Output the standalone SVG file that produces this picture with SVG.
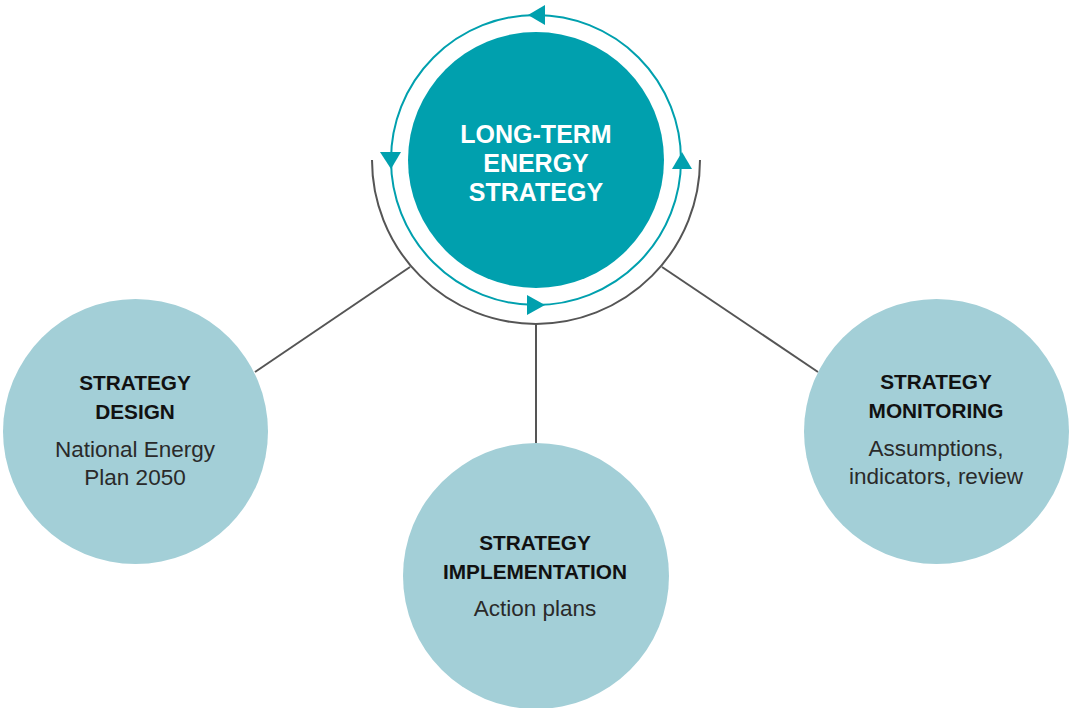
<svg xmlns="http://www.w3.org/2000/svg" width="1070" height="708" viewBox="0 0 1070 708">
<style>
.sat{fill:#A3CFD7;}
.hub{fill:#00A0AE;}
.conn{stroke:#555555;stroke-width:2;fill:none;}
.ring{stroke:#00A0AE;stroke-width:2;fill:none;}
.arr{fill:#00A0AE;}
.t{font-family:"Liberation Sans",Arial,sans-serif;text-anchor:middle;}
.h{font-size:20.8px;font-weight:bold;fill:#111111;}
.s{font-size:22.5px;fill:#2a2a2a;}
.c{font-size:25px;font-weight:bold;fill:#ffffff;}
</style>
<rect width="1070" height="708" fill="#ffffff"/>
<g id="connectors">
<path class="conn" d="M372 160 A164 164 0 0 0 700 160"/>
<line class="conn" x1="536" y1="324" x2="536" y2="444"/>
<line class="conn" x1="410" y1="267" x2="255" y2="372"/>
<line class="conn" x1="662" y1="267" x2="818" y2="372"/>
</g>
<g id="cycle">
<circle class="ring" cx="536" cy="160" r="145"/>
<polygon class="arr" points="528,15 545,5 545,25"/>
<polygon class="arr" points="380,152 401,152 391,169"/>
<polygon class="arr" points="672,169 692,169 682,152"/>
<polygon class="arr" points="527,295 527,315 545,305"/>
</g>
<g id="node-hub">
<circle class="hub" cx="536" cy="160" r="128"/>
<text class="t c" x="536" y="143">LONG-TERM</text>
<text class="t c" x="536" y="172">ENERGY</text>
<text class="t c" x="536" y="201">STRATEGY</text>
</g>
<g id="node-design">
<circle class="sat" cx="135.5" cy="431.5" r="132.5"/>
<text class="t h" x="135" y="390">STRATEGY</text>
<text class="t h" x="135" y="419">DESIGN</text>
<text class="t s" x="135" y="457">National Energy</text>
<text class="t s" x="135" y="485">Plan 2050</text>
</g>
<g id="node-implementation">
<circle class="sat" cx="536" cy="576" r="133"/>
<text class="t h" x="535" y="550">STRATEGY</text>
<text class="t h" x="535" y="579">IMPLEMENTATION</text>
<text class="t s" x="535" y="616">Action plans</text>
</g>
<g id="node-monitoring">
<circle class="sat" cx="936.5" cy="431.5" r="132.5"/>
<text class="t h" x="936" y="389">STRATEGY</text>
<text class="t h" x="936" y="418">MONITORING</text>
<text class="t s" x="936" y="456">Assumptions,</text>
<text class="t s" x="936" y="484">indicators, review</text>
</g>
</svg>
